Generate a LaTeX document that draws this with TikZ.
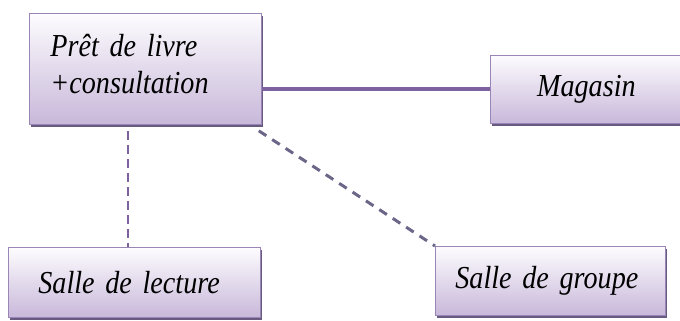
\documentclass[tikz,border=0pt]{standalone}
\usepackage{fontspec}
\setmainfont[FakeStretch=0.88]{Liberation Serif}
\usetikzlibrary{shadows,calc}
\definecolor{boxline}{HTML}{9A86B6}
\definecolor{boxtop}{HTML}{FDFCFE}
\definecolor{boxbottom}{HTML}{C8B8DA}
\definecolor{boxshade}{HTML}{4E3E68}
\definecolor{linkpurple}{HTML}{7E62A0}
\definecolor{linkgrey}{HTML}{6C6688}
\begin{document}
\begin{tikzpicture}[x=1pt,y=-1pt,
  box/.style={draw=boxline, line width=0.8pt, top color=boxtop, bottom color=boxbottom,
    drop shadow={shadow xshift=1.5pt, shadow yshift=-2.5pt, fill=boxshade, opacity=0.85},
    font=\fontsize{32}{37}\selectfont\itshape, inner ysep=0pt, anchor=north west},
  solidlink/.style={draw=linkpurple, line width=4pt},
  vlink/.style={draw=linkpurple, line width=2.6pt, dash pattern=on 9pt off 5pt},
  dlink/.style={draw=linkgrey, line width=3pt, dash pattern=on 9pt off 7pt}]
\useasboundingbox (0,0) rectangle (680,321);

\node[box, minimum width=232pt, minimum height=111pt, inner xsep=21pt,
      text width=190pt, text depth=48pt, align=left] (pret) at (29,13) {Prêt de livre\\+consultation};
\node[box, minimum width=192pt, minimum height=68pt] (magasin) at (490,55) {Magasin};
\node[box, minimum width=252pt, minimum height=70pt, inner xsep=30pt,
      text width=192pt, align=left] (lecture) at (8,247) {Salle de lecture};
\node[box, minimum width=230pt, minimum height=69pt, inner xsep=20pt,
      text width=190pt, align=left] (groupe) at (435,246) {Salle de groupe};

\draw[solidlink] (magasin.west -| pret.east) -- (magasin.west);
\coordinate (vtop) at ($(pret.south west)+(99,6)$);
\draw[vlink] (vtop) -- (vtop |- lecture.north);
\coordinate (dtop) at ($(pret.south east)+(-3,6)$);
\draw[dlink] (dtop) -- (groupe.north west);
\end{tikzpicture}
\end{document}
